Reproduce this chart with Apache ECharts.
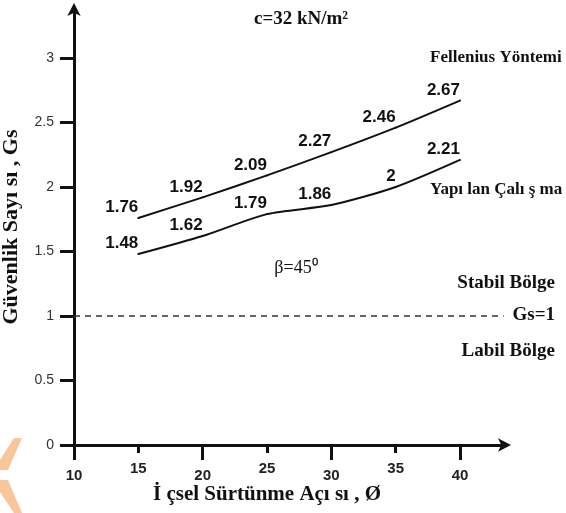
<!DOCTYPE html>
<html>
<head>
<meta charset="utf-8">
<script src="https://cdn.jsdelivr.net/npm/echarts@6/dist/echarts.min.js"></script>
<style>
html,body{margin:0;padding:0;background:#fff;}
#chart{width:566px;height:513px;}
</style>
</head>
<body>
<div id="chart"></div>
<script>
// ---- data ----
const angles = [15, 20, 25, 30, 35, 40];
const fellenius = [1.76, 1.92, 2.09, 2.27, 2.46, 2.67];
const study = [1.48, 1.62, 1.79, 1.86, 2, 2.21];
const xMajorTicks = [10, 20, 30, 40];
const xMinorTicks = [15, 25, 35];
const yTicks = [0, 0.5, 1, 1.5, 2, 2.5, 3];
const safetyLimit = 1;
const xTitle = 'İ çsel Sürtünme Açı sı , Ø';
const yTitle = 'Güvenlik Sayı sı , Gs';

const pairs = (ys) => angles.map((a, i) => [a, ys[i]]);
const serif = '"Liberation Serif","Times New Roman",serif';
const sans = '"Liberation Sans",Arial,sans-serif';
const X_MIN = 10, X_MAX = 43.5, Y_MIN = 0, Y_MAX = 3.38;

const chart = echarts.init(document.getElementById('chart'), null, {renderer: 'canvas'});

const lineLabel = {
  show: true,
  position: [0, 0],
  align: 'right',
  verticalAlign: 'bottom',
  offset: [1, -1],
  color: '#111',
  fontFamily: sans,
  fontWeight: 'bold',
  fontSize: 17
};

const option = {
  animation: false,
  backgroundColor: '#fff',
  grid: {left: 74, right: 61, top: 9, bottom: 68, containLabel: false, outerBoundsMode: 'none'},
  xAxis: [
    {
      type: 'value', min: X_MIN, max: X_MAX, position: 'bottom',
      splitLine: {show: false},
      axisLine: {show: true, onZero: false, symbol: ['none', 'arrow'], symbolSize: [10, 13], symbolOffset: [0, 6],
        lineStyle: {color: '#111', width: 3}},
      axisTick: {show: true, customValues: xMajorTicks, length: 15, lineStyle: {color: '#111', width: 3}},
      axisLabel: {show: true, customValues: xMajorTicks, margin: 23, color: '#222', fontFamily: sans, fontWeight: 'bold', fontSize: 15}
    },
    {
      type: 'value', min: X_MIN, max: X_MAX, position: 'bottom', offset: 0,
      splitLine: {show: false},
      axisLine: {show: false, onZero: false},
      axisTick: {show: true, customValues: xMinorTicks, length: 8, lineStyle: {color: '#111', width: 3}},
      axisLabel: {show: true, customValues: xMinorTicks, margin: 16, color: '#222', fontFamily: sans, fontWeight: 'bold', fontSize: 15}
    }
  ],
  yAxis: {
    type: 'value', min: Y_MIN, max: Y_MAX,
    splitLine: {show: false},
    axisLine: {show: true, onZero: false, symbol: ['none', 'arrow'], symbolSize: [10, 13], symbolOffset: [0, 6],
      lineStyle: {color: '#111', width: 3}},
    axisTick: {show: true, customValues: yTicks, length: 14, lineStyle: {color: '#111', width: 3}},
    axisLabel: {show: true, customValues: yTicks, margin: 20, color: '#333', fontFamily: sans, fontSize: 14},
    name: yTitle,
    nameLocation: 'middle',
    nameGap: 52,
    nameRotate: 90,
    nameTextStyle: {color: '#111', fontFamily: serif, fontWeight: 'bold', fontSize: 22}
  },
  series: [
    {
      name: 'Fellenius Yöntemi',
      type: 'line', xAxisIndex: 0,
      data: pairs(fellenius),
      smooth: 0.25,
      symbol: 'circle', symbolSize: 2,
      itemStyle: {color: '#111'},
      lineStyle: {color: '#111', width: 2},
      label: lineLabel,
      markLine: {
        silent: true,
        symbol: ['none', 'none'],
        label: {show: false},
        lineStyle: {color: '#333', width: 1.5, type: [6, 5]},
        data: [[{coord: [X_MIN, safetyLimit]}, {coord: [43.4, safetyLimit]}]]
      }
    },
    {
      name: 'Yapılan Çalışma',
      type: 'line', xAxisIndex: 0,
      data: pairs(study),
      smooth: 0.25,
      symbol: 'circle', symbolSize: 2,
      itemStyle: {color: '#111'},
      lineStyle: {color: '#111', width: 2},
      label: lineLabel
    }
  ],
  graphic: [
    {type: 'polygon', shape: {points: [[14, 438], [22, 438], [8, 470], [0, 470], [0, 460]]}, style: {fill: '#f9c59a'}},
    {type: 'polygon', shape: {points: [[0, 480], [8, 480], [22, 513], [14, 513], [0, 492]]}, style: {fill: '#f9c59a'}},
    {type: 'text', x: 301, y: 19, style: {text: 'c=32 kN/m²', font: 'bold 19px ' + serif, fill: '#111', align: 'center', verticalAlign: 'middle'}},
    {type: 'text', x: 430, y: 58, style: {text: 'Fellenius Yöntemi', font: 'bold 17px ' + serif, fill: '#111', align: 'left', verticalAlign: 'middle'}},
    {type: 'text', x: 430, y: 190, style: {text: 'Yapı lan Çalı ş ma', font: 'bold 17px ' + serif, fill: '#111', align: 'left', verticalAlign: 'middle'}},
    {type: 'text', x: 296, y: 268, style: {text: 'β=45⁰', font: '18px ' + serif, fill: '#111', align: 'center', verticalAlign: 'middle'}},
    {type: 'text', x: 555, y: 283, style: {text: 'Stabil Bölge', font: 'bold 19px ' + serif, fill: '#111', align: 'right', verticalAlign: 'middle'}},
    {type: 'text', x: 555, y: 315, style: {text: 'Gs=1', font: 'bold 19px ' + serif, fill: '#111', align: 'right', verticalAlign: 'middle'}},
    {type: 'text', x: 555, y: 351, style: {text: 'Labil Bölge', font: 'bold 19px ' + serif, fill: '#111', align: 'right', verticalAlign: 'middle'}},
    {type: 'text', x: 267, y: 495, style: {text: xTitle, font: 'bold 21px ' + serif, fill: '#111', align: 'center', verticalAlign: 'middle'}}
  ]
};

chart.setOption(option);
</script>
</body>
</html>
